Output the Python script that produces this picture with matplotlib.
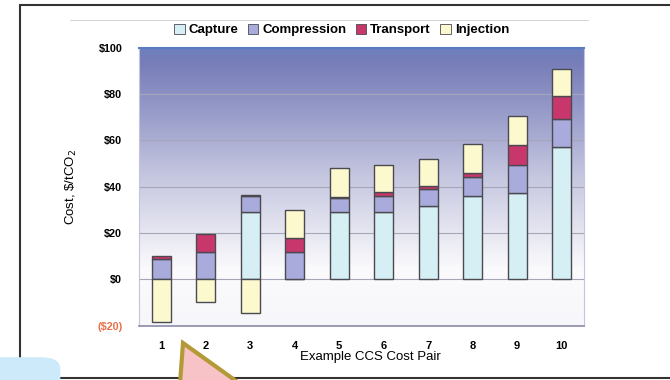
import numpy as np
import matplotlib.pyplot as plt
from matplotlib.colors import LinearSegmentedColormap
from matplotlib.patches import FancyBboxPatch, Polygon, Rectangle

# Cost components per CCS pair ($/tCO2)
pairs = ['1', '2', '3', '4', '5', '6', '7', '8', '9', '10']
capture = [0, 0, 29.3, 0, 29.3, 29.3, 31.7, 35.8, 37.5, 57.1]
compression = [8.7, 11.7, 6.7, 11.7, 5.7, 6.5, 7.5, 8.6, 12.0, 12.2]
transport = [1.3, 7.9, 0.6, 6.0, 0.7, 1.9, 1.2, 1.5, 8.6, 9.7]
injection = [-18.5, -9.7, -14.5, 12.3, 12.5, 11.8, 11.5, 12.5, 12.3, 11.9]

yticks = [-20, 0, 20, 40, 60, 80, 100]
ytick_labels = ['($20)', '$0', '$20', '$40', '$60', '$80', '$100']

col_capture = '#d5eff4'
col_compression = '#a9abdc'
col_transport = '#c8376b'
col_injection = '#fcf9cf'
edge = '#4a4a50'

plt.rcParams['font.family'] = ['Liberation Sans', 'DejaVu Sans']

fig = plt.figure(figsize=(6.7, 3.8), dpi=100)
ax = fig.add_axes([0.2075, 0.143, 0.664, 0.731])

x = np.arange(len(pairs))
w = 0.43

# stack positives upward, negatives downward
pos_base = np.zeros(len(pairs))
neg_base = np.zeros(len(pairs))
for vals, col, name in [(capture, col_capture, 'Capture'),
                        (compression, col_compression, 'Compression'),
                        (transport, col_transport, 'Transport'),
                        (injection, col_injection, 'Injection')]:
    vals = np.array(vals, dtype=float)
    bottoms = np.where(vals >= 0, pos_base, neg_base)
    ax.bar(x, vals, w, bottom=bottoms, color=col, edgecolor=edge,
           linewidth=1.0, label=name, zorder=3)
    pos_base = pos_base + np.clip(vals, 0, None)
    neg_base = neg_base + np.clip(vals, None, 0)

ax.set_xlim(-0.5, len(pairs) - 0.5)
ax.set_ylim(-20, 100)

# blue-to-white background gradient
cmap = LinearSegmentedColormap.from_list('bg', [
    (0.0, '#f7f7fb'), (0.2, '#fbfbfd'), (0.35, '#e4e4f0'),
    (0.55, '#c3c5df'), (0.75, '#9b9fcb'), (0.95, '#777db8'), (1.0, '#6d80bd')])
grad = np.linspace(0, 1, 256).reshape(-1, 1)
ax.imshow(grad, extent=[-0.5, len(pairs) - 0.5, -20, 100], origin='lower',
          aspect='auto', cmap=cmap, zorder=0)

for yv in yticks[1:-1]:
    ax.axhline(yv, color='#a6a6b8', linewidth=0.8, zorder=1)

for s in ['left', 'right']:
    ax.spines[s].set_color('#c4c4dc')
ax.spines['top'].set_color('#5a7cc0')
ax.spines['top'].set_linewidth(1.5)
ax.spines['bottom'].set_color('#8a8aa8')
ax.spines['bottom'].set_linewidth(1.2)

ax.set_yticks(yticks)
ax.set_yticklabels(ytick_labels, fontsize=7.8, fontweight='bold')
ax.get_yticklabels()[0].set_color('#e8704a')
ax.set_xticks(x)
ax.set_xticklabels(pairs, fontsize=8, fontweight='bold')
ax.tick_params(length=0, pad=11)
ax.tick_params(axis='y', pad=12)

ax.set_ylabel(r'Cost, \$/tCO$_2$', fontsize=9.5)
ax.yaxis.set_label_coords(-0.135, 0.5)
ax.set_xlabel('Example CCS Cost Pair', fontsize=9.5)
ax.xaxis.set_label_coords(0.52, -0.09)

leg = fig.legend(loc='center', bbox_to_anchor=(0.51, 0.921), ncol=4,
                 frameon=False, handlelength=0.8,
                 handleheight=0.8, handletextpad=0.3, columnspacing=0.7,
                 prop={'weight': 'bold', 'size': 9.5})
for h in leg.legend_handles:
    h.set_linewidth(0.6)

# outer frame and surrounding page elements
fig.add_artist(Rectangle((20 / 670, 2 / 380), 0.99, 373 / 380,
                         transform=fig.transFigure, fill=False,
                         edgecolor='#333333', linewidth=1.5))
fig.add_artist(plt.Line2D([70 / 670, 588 / 670], [360 / 380, 360 / 380],
                          transform=fig.transFigure, color='#cccccc',
                          linewidth=0.6))
fig.add_artist(FancyBboxPatch((-0.05, -0.1), 0.14, 0.16,
                              boxstyle='round,pad=0,rounding_size=0.03',
                              transform=fig.transFigure,
                              facecolor='#cdeafb', edgecolor='none'))
fig.add_artist(Polygon([(183 / 670, 1 - 343 / 380), (240 / 670, -0.01),
                        (180 / 670, -0.01)],
                       closed=True, transform=fig.transFigure,
                       facecolor='#f7c3c7', edgecolor='#b39a36',
                       linewidth=3))

fig.savefig('out.png', dpi=100)
